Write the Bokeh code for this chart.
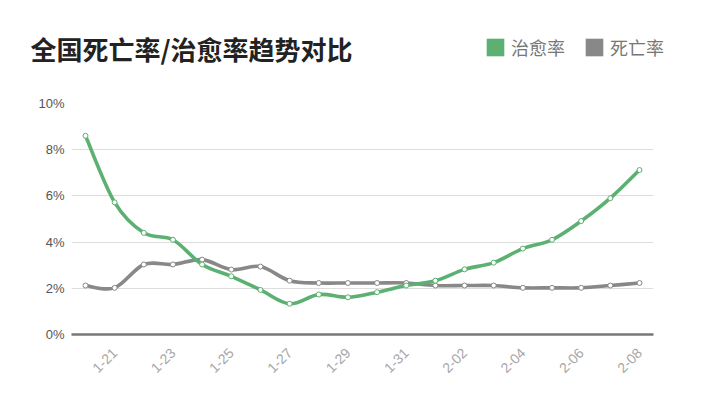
from bokeh.plotting import figure
from bokeh.models import (Range1d, FixedTicker, PrintfTickFormatter, Label, Legend,
                          LegendItem, ColumnDataSource)
from bokeh.layouts import column
from bokeh.embed import file_html
from bokeh.resources import INLINE
import math

dates = ["1-20", "1-21", "1-22", "1-23", "1-24", "1-25", "1-26", "1-27", "1-28", "1-29",
         "1-30", "1-31", "2-01", "2-02", "2-03", "2-04", "2-05", "2-06", "2-07", "2-08"]
cure_rate = [8.6, 5.72, 4.40, 4.10, 3.03, 2.52, 1.93, 1.33, 1.73, 1.61,
             1.83, 2.12, 2.33, 2.82, 3.11, 3.72, 4.10, 4.91, 5.90, 7.12]
death_rate = [2.12, 2.02, 3.03, 3.03, 3.24, 2.81, 2.94, 2.33, 2.23, 2.23,
              2.23, 2.23, 2.12, 2.12, 2.12, 2.02, 2.02, 2.02, 2.12, 2.23]
y_ticks = [0, 2, 4, 6, 8, 10]
title_text = "全国死亡率/治愈率趋势对比"
series_names = ["治愈率", "死亡率"]

GREEN = "#5cb071"
GRAY = "#888888"
W = 696
NAN = float("nan")

xs = list(range(len(dates)))

# ---- header (title + legend) ----
hdr = figure(width=W, height=95, output_backend="svg", toolbar_location=None,
             x_range=Range1d(0, W), y_range=Range1d(0, 95),
             x_axis_location=None, y_axis_location=None,
             min_border=0, min_border_left=0, min_border_right=0,
             min_border_top=0, min_border_bottom=0)
hdr.frame_align = False
hdr.grid.visible = False
hdr.outline_line_color = None
hdr.background_fill_color = "white"
hdr.border_fill_color = "white"

r_g = hdr.rect(x=[NAN], y=[NAN], width=1, height=1, fill_color=GREEN, line_color=None)
r_d = hdr.rect(x=[NAN], y=[NAN], width=1, height=1, fill_color=GRAY, line_color=None)
legend = Legend(items=[LegendItem(label=series_names[0], renderers=[r_g]),
                       LegendItem(label=series_names[1], renderers=[r_d])],
                orientation="horizontal", location=(484, 35),
                glyph_width=22, glyph_height=22, label_standoff=5, spacing=18,
                label_height=22, padding=0, margin=0, border_line_color=None,
                background_fill_alpha=0,
                label_text_font="Noto Sans CJK SC", label_text_font_size="18px",
                label_text_color="#777777", label_text_baseline="middle")
hdr.add_layout(legend, "center")

title = Label(x=30, y=47, text=title_text, text_font="Noto Sans CJK SC",
              text_font_size="26px", text_font_style="bold", text_color="#222222",
              text_baseline="middle", text_align="left")
hdr.add_layout(title)

# ---- main chart ----
p = figure(width=W, height=305, output_backend="svg", toolbar_location=None,
           x_range=Range1d(-0.48, len(dates) - 1 + 0.48), y_range=Range1d(0, 10),
           min_border_left=71, min_border_right=43, min_border_top=8, min_border_bottom=66)
p.frame_align = False
p.outline_line_color = None
p.background_fill_color = "white"
p.border_fill_color = "white"
p.xgrid.grid_line_color = None
p.ygrid.grid_line_color = "#dddddd"
p.ygrid.grid_line_width = 1
p.ygrid.ticker = FixedTicker(ticks=y_ticks)

p.yaxis.ticker = FixedTicker(ticks=y_ticks)
p.yaxis.formatter = PrintfTickFormatter(format="%d%%")
p.yaxis.axis_line_color = None
p.yaxis.major_tick_line_color = None
p.yaxis.major_tick_out = 0
p.yaxis.major_tick_in = 0
p.yaxis.minor_tick_line_color = None
p.yaxis.major_label_text_color = "#555555"
p.yaxis.major_label_text_font = "Liberation Sans"
p.yaxis.major_label_text_font_size = "13px"
p.yaxis.major_label_standoff = 7

p.xaxis.ticker = FixedTicker(ticks=[i for i in xs if i % 2 == 1])
p.xaxis.major_label_overrides = {i: dates[i] for i in xs}
p.xaxis.axis_line_color = "#777777"
p.xaxis.axis_line_width = 2.5
p.xaxis.major_tick_line_color = None
p.xaxis.major_tick_out = 0
p.xaxis.major_tick_in = 0
p.xaxis.minor_tick_line_color = None
p.xaxis.major_label_orientation = math.pi / 4
p.xaxis.major_label_text_color = "#a6a6a6"
p.xaxis.major_label_text_font = "Liberation Sans"
p.xaxis.major_label_text_font_size = "14px"
p.xaxis.major_label_standoff = 16


def smooth(xv, yv, s=1.0):
    n = len(xv)
    x0, y0, x1, y1, cx0, cy0, cx1, cy1 = [], [], [], [], [], [], [], []
    for i in range(n - 1):
        xp = xv[i - 1] if i > 0 else xv[i]
        yp = yv[i - 1] if i > 0 else yv[i]
        xn = xv[i + 2] if i + 2 < n else xv[i + 1]
        yn = yv[i + 2] if i + 2 < n else yv[i + 1]
        x0.append(xv[i]); y0.append(yv[i]); x1.append(xv[i + 1]); y1.append(yv[i + 1])
        cx0.append(xv[i] + (xv[i + 1] - xp) / 6 * s)
        cy0.append(yv[i] + (yv[i + 1] - yp) / 6 * s)
        cx1.append(xv[i + 1] - (xn - xv[i]) / 6 * s)
        cy1.append(yv[i + 1] - (yn - yv[i]) / 6 * s)
    return dict(x0=x0, y0=y0, x1=x1, y1=y1, cx0=cx0, cy0=cy0, cx1=cx1, cy1=cy1)


for vals, col in [(death_rate, GRAY), (cure_rate, GREEN)]:
    src = ColumnDataSource(smooth(xs, vals))
    p.bezier(x0="x0", y0="y0", x1="x1", y1="y1", cx0="cx0", cy0="cy0", cx1="cx1", cy1="cy1",
             source=src, line_color=col, line_width=3.6, line_cap="round")
    p.scatter(xs, vals, marker="circle", size=5, fill_color="white", line_color=col, line_width=1)

layout = column(hdr, p, spacing=0)
open("out.html", "w").write(file_html(layout, INLINE))
